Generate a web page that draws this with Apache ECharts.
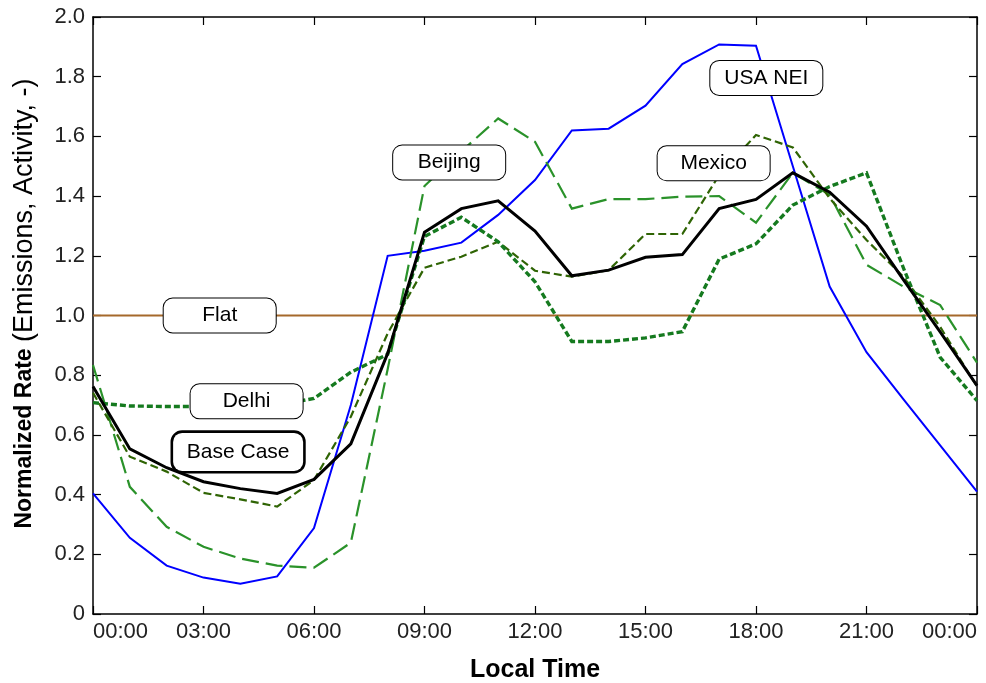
<!DOCTYPE html>
<html>
<head>
<meta charset="utf-8">
<script src="https://cdn.jsdelivr.net/npm/echarts@6/dist/echarts.min.js"></script>
<style>
  html, body { margin: 0; background: #fff; }
  #chart-container { width: 986px; height: 683px; }
</style>
</head>
<body>
<div id="chart-container"></div>
<script>
var hours = [0, 1, 2, 3, 4, 5, 6, 7, 8, 9, 10, 11, 12, 13, 14, 15, 16, 17, 18, 19, 20, 21, 22, 23, 24];
var usaNei = [0.404, 0.255, 0.162, 0.122, 0.101, 0.126, 0.288, 0.70, 1.20, 1.217, 1.244, 1.337, 1.454, 1.62, 1.626, 1.703, 1.842, 1.908, 1.904, 1.50, 1.097, 0.877, 0.72, 0.565, 0.41];
var baseCase = [0.762, 0.553, 0.49, 0.443, 0.42, 0.404, 0.451, 0.57, 0.873, 1.279, 1.358, 1.384, 1.283, 1.133, 1.152, 1.195, 1.204, 1.358, 1.389, 1.478, 1.413, 1.299, 1.12, 0.945, 0.765];
var flat = [1, 1, 1, 1, 1, 1, 1, 1, 1, 1, 1, 1, 1, 1, 1, 1, 1, 1, 1, 1, 1, 1, 1, 1, 1];
var beijing = [0.834, 0.426, 0.292, 0.225, 0.186, 0.162, 0.155, 0.239, 0.82, 1.434, 1.55, 1.66, 1.582, 1.358, 1.39, 1.39, 1.398, 1.40, 1.311, 1.478, 1.404, 1.17, 1.097, 1.035, 0.842];
var mexico = [0.741, 0.527, 0.477, 0.406, 0.384, 0.36, 0.449, 0.661, 0.94, 1.16, 1.197, 1.247, 1.15, 1.13, 1.152, 1.273, 1.273, 1.47, 1.605, 1.563, 1.393, 1.253, 1.13, 0.962, 0.762];
var delhi = [0.708, 0.697, 0.695, 0.695, 0.695, 0.70, 0.722, 0.81, 0.87, 1.265, 1.329, 1.247, 1.113, 0.913, 0.913, 0.925, 0.946, 1.189, 1.24, 1.37, 1.432, 1.478, 1.16, 0.86, 0.715];

// annotation boxes: [hour, value, text]
var boxLabels = [
  [3.44, 1.0, 'Flat'],
  [4.17, 0.7125, 'Delhi'],
  [3.94, 0.543, 'Base Case'],
  [9.67, 1.5126, 'Beijing'],
  [16.85, 1.51, 'Mexico'],
  [18.28, 1.796, 'USA NEI']
];

var dom = document.getElementById('chart-container');
var myChart = echarts.init(dom, null, { renderer: 'canvas' });

function pairs(values) {
  return hours.map(function (h, i) { return [h, values[i]]; });
}

function lineSeries(name, values, color, width, type, z) {
  return {
    name: name,
    type: 'line',
    data: pairs(values),
    showSymbol: false,
    symbol: 'none',
    z: z,
    lineStyle: { color: color, width: width, type: type, cap: 'butt', join: 'miter' }
  };
}

var axisFont = { fontFamily: 'Liberation Sans', fontSize: 22, color: '#222' };
var frameLine = { show: true, onZero: false, lineStyle: { color: '#000', width: 1.5 } };
var tickIn = { show: true, inside: true, length: 8, lineStyle: { color: '#000', width: 1.2 } };

var option = {
  animation: false,
  backgroundColor: '#fff',
  grid: { left: 93, right: 9, top: 17, bottom: 69, outerBoundsMode: 'none', containLabel: false },
  xAxis: [
    {
      type: 'value', min: 0, max: 24, interval: 3,
      position: 'bottom',
      name: 'Local Time',
      nameLocation: 'middle',
      nameGap: 44,
      nameTextStyle: { fontFamily: 'Liberation Sans', fontSize: 25, fontWeight: 'bold', color: '#000' },
      axisLine: frameLine,
      axisTick: tickIn,
      splitLine: { show: false },
      axisLabel: Object.assign({
        margin: 7,
        alignMinLabel: 'left',
        alignMaxLabel: 'right',
        formatter: function (v) {
          var h = v % 24;
          return (h < 10 ? '0' : '') + h + ':00';
        }
      }, axisFont)
    },
    {
      type: 'value', min: 0, max: 24, interval: 3,
      position: 'top',
      axisLine: frameLine,
      axisTick: tickIn,
      splitLine: { show: false },
      axisLabel: { show: false }
    }
  ],
  yAxis: [
    {
      type: 'value', min: 0, max: 2, interval: 0.2,
      position: 'left',
      name: '{b|Normalized Rate }{n|(Emissions, Activity, -)}',
      nameLocation: 'middle',
      nameRotate: 90,
      nameGap: 55,
      nameTextStyle: {
        padding: [0, 0, 0, 24],
        rich: {
          b: { fontFamily: 'Liberation Sans', fontSize: 23, fontWeight: 'bold', color: '#000' },
          n: { fontFamily: 'Liberation Sans', fontSize: 27, color: '#000' }
        }
      },
      axisLine: frameLine,
      axisTick: tickIn,
      splitLine: { show: false },
      axisLabel: Object.assign({
        margin: 8,
        formatter: function (v) { return v === 0 ? '0' : v.toFixed(1); }
      }, axisFont)
    },
    {
      type: 'value', min: 0, max: 2, interval: 0.2,
      position: 'right',
      axisLine: frameLine,
      axisTick: tickIn,
      splitLine: { show: false },
      axisLabel: { show: false }
    }
  ],
  series: [
    lineSeries('Flat', flat, '#a5692b', 2, 'solid', 2),
    lineSeries('USA NEI', usaNei, '#0000ff', 2, 'solid', 3),
    lineSeries('Beijing', beijing, '#2a922a', 2.2, [17, 7], 4),
    lineSeries('Mexico', mexico, '#2f6404', 2.2, [8, 4], 4),
    lineSeries('Delhi', delhi, '#157a1f', 3.4, [6, 3], 5),
    lineSeries('Base Case', baseCase, '#000000', 3, 'solid', 6),
    {
      name: 'labels',
      type: 'scatter',
      symbolSize: 0,
      z: 10,
      itemStyle: { color: '#fff', opacity: 1 },
      emphasis: { disabled: true },
      data: boxLabels.map(function (b) {
        var item = { name: b[2], value: [b[0], b[1]] };
        if (b[2] === 'Base Case') {
          item.label = { width: 130, padding: [8, 0], borderWidth: 2.6 };
        }
        return item;
      }),
      label: {
        show: true,
        position: 'inside',
        formatter: '{b}',
        fontFamily: 'Liberation Sans',
        fontSize: 21,
        lineHeight: 22,
        color: '#000',
        opacity: 1,
        align: 'center',
        verticalAlign: 'middle',
        width: 112,
        padding: [6, 0],
        backgroundColor: '#fff',
        borderColor: '#000',
        borderWidth: 1,
        borderRadius: 9
      }
    }
  ]
};

myChart.setOption(option);
window.addEventListener('resize', myChart.resize);
</script>
</body>
</html>
